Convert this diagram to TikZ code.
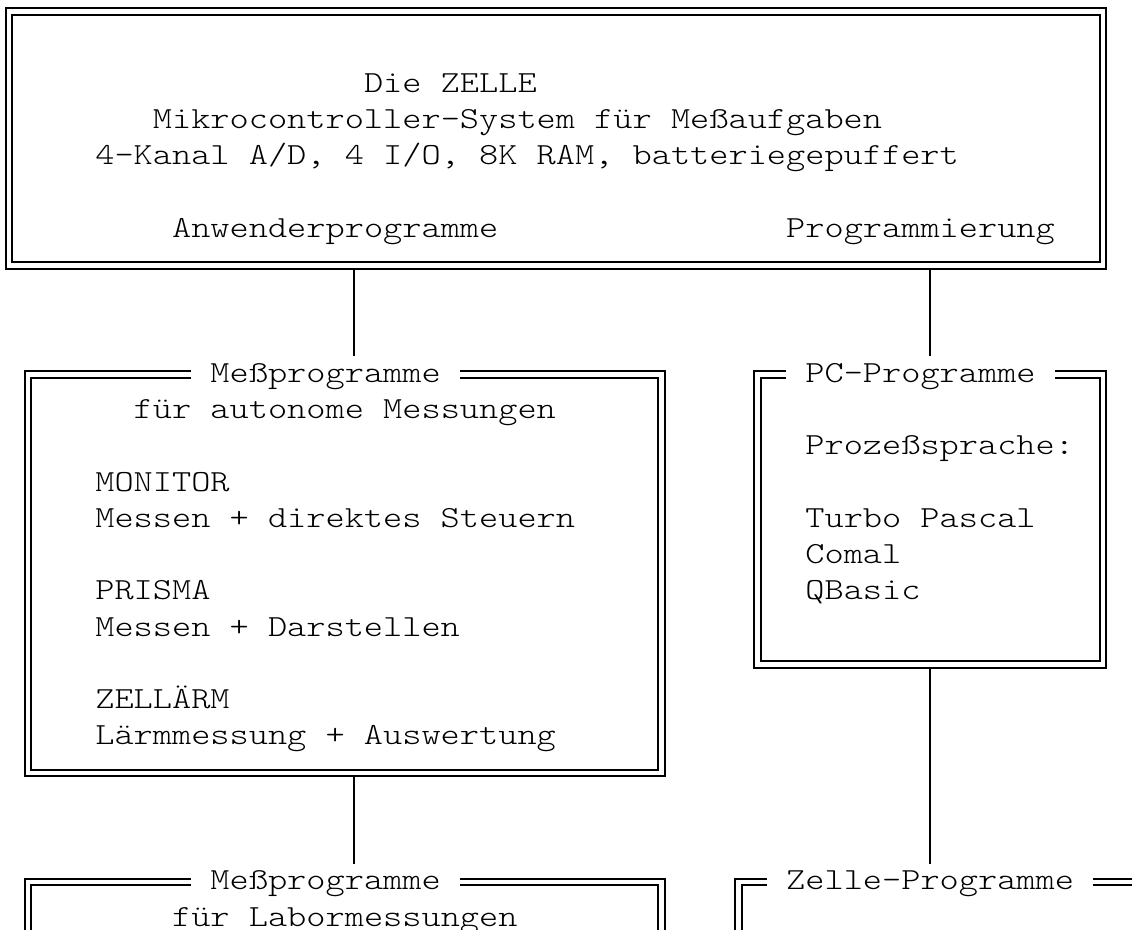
\documentclass[tikz,border=0pt]{standalone}
\usepackage{fontspec}
\usepackage{graphicx}
\newfontfamily\monofnt{lmmonolt10-regular}[Extension=.otf]
\newcommand\colx[1]{19.19*(#1)+9}
\newcommand\colL[1]{19.19*(#1)-0.6}
\newcommand\rowy[1]{11.5+36.27*(#1)}
\newcommand\mt[1]{\scalebox{1}[0.84]{#1}}
\tikzset{
  dbox/.style={draw, double, line width=2pt, double distance=4.6pt, rectangle,
    inner sep=0pt, outer sep=0pt, anchor=north west},
  txt/.style={inner sep=0pt, outer sep=0pt, anchor=west, text height=26.135pt,
    text depth=10.135pt, font=\monofnt\fontsize{36.55}{40}\selectfont},
  ttl/.style={txt, fill=white, inner xsep=19.19pt},
  conn/.style={line width=2pt},
}
\begin{document}
\begin{tikzpicture}[x=1pt,y=-1pt]
\useasboundingbox (0,0) rectangle (1132,929);
\fill[white] (0,0) rectangle (1132,929);
\clip (0,0) rectangle (1132,929);
% boxes
\node[dbox, minimum width=1093.83pt, minimum height=253.89pt] (b1) at ({\colx{0}},{\rowy{0}}) {};
\node[dbox, minimum width=633.27pt, minimum height=398.97pt] (b2) at ({\colx{1}},{\rowy{10}}) {};
\node[dbox, minimum width=345.42pt, minimum height=290.16pt] (b3) at ({\colx{39}},{\rowy{10}}) {};
\node[dbox, minimum width=633.27pt, minimum height=200pt] (b4) at ({\colx{1}},{\rowy{24}}) {};
\node[dbox, minimum width=500pt, minimum height=200pt] (b5) at ({\colx{38}},{\rowy{24}}) {};
% titles on the top borders
\node[ttl] (t2) at ({\colL{10}},{\rowy{10}}) {\mt{Meßprogramme}};
\node[ttl] (t3) at ({\colL{41}},{\rowy{10}}) {\mt{PC-Programme}};
\node[ttl] (t4) at ({\colL{10}},{\rowy{24}}) {\mt{Meßprogramme}};
\node[ttl] (t5) at ({\colL{40}},{\rowy{24}}) {\mt{Zelle-Programme}};
% connector columns
\coordinate (k18) at ({\colx{18}},0);
\coordinate (k48) at ({\colx{48}},0);
\draw[conn, shorten <=3.3pt] (b1.south -| k18) -- (t2.north -| k18);
\draw[conn, shorten <=3.3pt] (b1.south -| k48) -- (t3.north -| k48);
\draw[conn, shorten <=3.3pt] (b2.south -| k18) -- (t4.north -| k18);
\draw[conn, shorten <=3.3pt] (b3.south -| k48) -- (t5.north -| k48);
% top box texts
\node[txt] (l1) at ({\colL{19}},{\rowy{2}}) {\mt{Die ZELLE}};
\node[txt] (l2) at ({\colL{8}},{\rowy{3}}) {\mt{Mikrocontroller-System für Meßaufgaben}};
\node[txt] (l3) at ({\colL{5}},{\rowy{4}}) {\mt{4-Kanal A/D, 4 I/O, 8K RAM, batteriegepuffert}};
\node[txt] (l4) at ({\colL{9}},{\rowy{6}}) {\mt{Anwenderprogramme}};
\node[txt] (l5) at ({\colL{41}},{\rowy{6}}) {\mt{Programmierung}};
% left box texts
\node[txt] (m1) at ({\colL{7}},{\rowy{11}}) {\mt{für autonome Messungen}};
\node[txt] (m2) at ({\colL{5}},{\rowy{13}}) {\mt{MONITOR}};
\node[txt] (m3) at ({\colL{5}},{\rowy{14}}) {\mt{Messen + direktes Steuern}};
\node[txt] (m4) at ({\colL{5}},{\rowy{16}}) {\mt{PRISMA}};
\node[txt] (m5) at ({\colL{5}},{\rowy{17}}) {\mt{Messen + Darstellen}};
\node[txt] (m6) at ({\colL{5}},{\rowy{19}}) {\mt{ZELLÄRM}};
\node[txt] (m7) at ({\colL{5}},{\rowy{20}}) {\mt{Lärmmessung + Auswertung}};
% right box texts
\node[txt] (p1) at ({\colL{42}},{\rowy{12}}) {\mt{Prozeßsprache:}};
\node[txt] (p2) at ({\colL{42}},{\rowy{14}}) {\mt{Turbo Pascal}};
\node[txt] (p3) at ({\colL{42}},{\rowy{15}}) {\mt{Comal}};
\node[txt] (p4) at ({\colL{42}},{\rowy{16}}) {\mt{QBasic}};
% bottom left box text
\node[txt] (n1) at ({\colL{9}},{\rowy{25}}) {\mt{für Labormessungen}};
\end{tikzpicture}
\end{document}
